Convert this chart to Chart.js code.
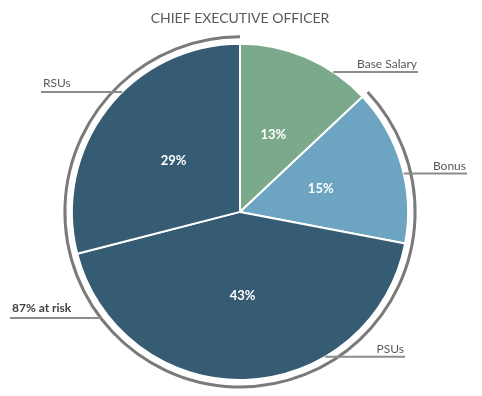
<!DOCTYPE html>
<html>
<head>
<meta charset="utf-8">
<script src="https://cdn.jsdelivr.net/npm/chart.js@4/dist/chart.umd.min.js"></script>
<style>
  html,body{margin:0;padding:0;background:#fff;}
  #wrap{width:482px;height:396px;position:relative;}
</style>
</head>
<body>
<div id="wrap"><canvas id="c" width="482" height="396"></canvas></div>
<script>
const titleText = 'CHIEF EXECUTIVE OFFICER';
const categories = ['Base Salary', 'Bonus', 'PSUs', 'RSUs'];
const values = [13, 15, 43, 29];
const sliceColors = ['#7BA98B', '#6CA4C2', '#365C73', '#365C73'];
const atRiskLabel = '87% at risk';
const atRiskFrom = 1; // index of first "at risk" slice (Bonus onward)

// leader line styling: edge angle (deg from top, clockwise), outer x, side
const leaderStyle = [
  {angle: 33.7, x: 418, side: 'right'},
  {angle: 76.8, x: 467, side: 'right'},
  {angle: 149.5, x: 405, side: 'right'},
  {angle: 315.5, x: 41, side: 'left'}
];
const atRiskStyle = {angle: 232.7, x: 10};

const FONT = 'Lato, "Open Sans", sans-serif';

const overlay = {
  id: 'overlay',
  afterDatasetsDraw(chart) {
    const ctx = chart.ctx;
    const meta = chart.getDatasetMeta(0);
    const arc0 = meta.data[0];
    const cx = arc0.x, cy = arc0.y, r = arc0.outerRadius;
    const total = values.reduce((a, b) => a + b, 0);
    const toRad = d => (d - 90) * Math.PI / 180;

    // outer "at risk" arc
    let startFrac = 0;
    for (let i = 0; i < atRiskFrom; i++) startFrac += values[i] / total;
    const R = r + 7;
    ctx.save();
    ctx.strokeStyle = '#7a7a7a';
    ctx.lineWidth = 3;
    ctx.beginPath();
    ctx.arc(cx, cy, R, toRad(startFrac * 360), toRad(360));
    ctx.stroke();

    // percentage labels
    ctx.fillStyle = '#ffffff';
    ctx.font = 'bold 13px ' + FONT;
    ctx.textAlign = 'center';
    ctx.textBaseline = 'middle';
    meta.data.forEach((a, i) => {
      const p = a.tooltipPosition();
      ctx.fillText(values[i] + '%', p.x, p.y);
    });

    // leader lines + category labels
    ctx.strokeStyle = '#8c8c8c';
    ctx.lineWidth = 2;
    ctx.font = '12px ' + FONT;
    ctx.fillStyle = '#595959';
    ctx.textBaseline = 'alphabetic';
    categories.forEach((name, i) => {
      const s = leaderStyle[i];
      const a = toRad(s.angle);
      const ex = cx + Math.cos(a) * r, ey = cy + Math.sin(a) * r;
      ctx.beginPath();
      ctx.moveTo(ex, ey);
      ctx.lineTo(s.x, ey);
      ctx.stroke();
      if (s.side === 'right') {
        ctx.textAlign = 'right';
        ctx.fillText(name, s.x - 1, ey - 4);
      } else {
        ctx.textAlign = 'left';
        ctx.fillText(name, s.x + 2, ey - 5);
      }
    });

    // at-risk label
    const aa = toRad(atRiskStyle.angle);
    const ax = cx + Math.cos(aa) * R, ay = cy + Math.sin(aa) * R;
    ctx.beginPath();
    ctx.moveTo(atRiskStyle.x, ay);
    ctx.lineTo(ax, ay);
    ctx.stroke();
    ctx.textAlign = 'left';
    ctx.fillStyle = '#404040';
    ctx.font = 'bold 12px ' + FONT;
    ctx.fillText(atRiskLabel, atRiskStyle.x + 2, ay - 6);
    ctx.restore();
  }
};

new Chart(document.getElementById('c'), {
  type: 'pie',
  data: {
    labels: categories,
    datasets: [{
      data: values,
      backgroundColor: sliceColors,
      borderColor: '#ffffff',
      borderWidth: 2
    }]
  },
  options: {
    responsive: false,
    animation: false,
    layout: {padding: {top: 0, bottom: 15, left: 0, right: 2}},
    plugins: {
      legend: {display: false},
      tooltip: {enabled: false},
      title: {
        display: true,
        text: titleText,
        color: '#595959',
        font: {family: FONT, size: 14, weight: 'normal', lineHeight: 1.2},
        padding: {top: 10, bottom: 16}
      }
    }
  },
  plugins: [overlay]
});
</script>
</body>
</html>
